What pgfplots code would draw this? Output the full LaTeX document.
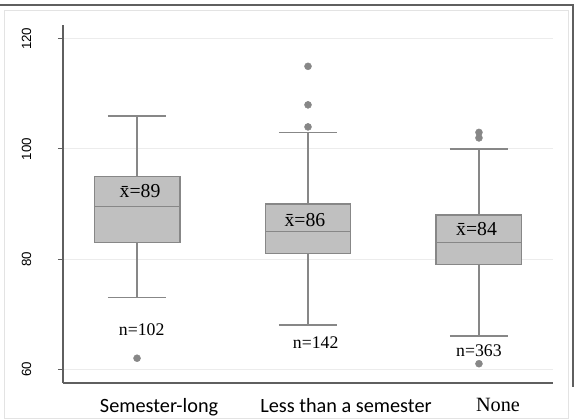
\documentclass[border=0pt]{standalone}
\usepackage{fontspec}
\setmainfont{Liberation Serif}
\newfontfamily\arialf{Liberation Sans}
\newfontfamily\calib{Carlito}
\usepackage{pgfplots}
\pgfplotsset{compat=1.18}

\definecolor{boxfill}{RGB}{192,192,192}
\definecolor{boxline}{RGB}{135,135,135}
\definecolor{axisline}{RGB}{95,95,95}
\definecolor{gridc}{RGB}{236,236,236}

\pgfplotsset{
  whisk/.style={draw=boxline, line width=1.1pt, no marks, unbounded coords=jump},
  boxbody/.style={draw=boxline, line width=1.1pt, fill=boxfill, no marks},
  medline/.style={draw=boxline, line width=1.1pt, no marks},
  outl/.style={only marks, mark=*, mark size=2.6pt, mark options={fill=boxline, draw=boxline}},
}

\begin{document}
\begin{tikzpicture}
% fixed page size and outer frame
\path[use as bounding box] (-47.25pt,-27.75pt) rectangle (386.25pt,287.25pt);
\draw[gray!22, line width=0.6pt] (-44.25pt,-26.25pt) rectangle (378.75pt,279.75pt);
\draw[axisline, line width=1.1pt] (-47.25pt,283.5pt) -- (382.5pt,283.5pt) -- (382.5pt,-3pt);

\begin{axis}[
  at={(0pt,0pt)}, anchor=south west,
  scale only axis, width=367.5pt, height=268.5pt,
  xmin=-0.433, xmax=2.433, ymin=57.5, ymax=122.5,
  axis x line*=bottom, axis y line*=left,
  axis line style={axisline, line width=1.1pt},
  xtick={0.129,1.222,2.111},
  xticklabels={{\calib Semester-long},{\calib Less than a semester},{None}},
  x tick label style={font=\fontsize{15.2}{17}\selectfont, anchor=north, yshift=-4pt},
  major x tick style={draw=none},
  ytick={60,80,100,120},
  /pgf/number format/assume math mode=true,
  y tick label style={font=\arialf\fontsize{10}{12}\selectfont, xshift=-16.5pt, rotate=90, anchor=south},
  tick align=outside,
  major tick length=3.75pt,
  y tick style={axisline, line width=0.8pt},
  ymajorgrids, grid style={gridc, line width=0.8pt},
]
% ---- Semester-long: whiskers 73/106, quartiles 83/95, median 89.5
\addplot[whisk] coordinates {(0,95) (0,106) (0,nan) (-0.17,106) (0.17,106) (0,nan)
  (0,83) (0,73) (0,nan) (-0.17,73) (0.17,73)};
\addplot[boxbody] coordinates {(-0.25,83) (0.25,83) (0.25,95) (-0.25,95)} --cycle;
\addplot[medline] coordinates {(-0.25,89.5) (0.25,89.5)};
\addplot[outl] coordinates {(0,62)};

% ---- Less than a semester: whiskers 68/103, quartiles 81/90, median 85
\addplot[whisk] coordinates {(1,90) (1,103) (1,nan) (0.83,103) (1.17,103) (1,nan)
  (1,81) (1,68) (1,nan) (0.83,68) (1.17,68)};
\addplot[boxbody] coordinates {(0.75,81) (1.25,81) (1.25,90) (0.75,90)} --cycle;
\addplot[medline] coordinates {(0.75,85) (1.25,85)};
\addplot[outl] coordinates {(1,104) (1,108) (1,115)};

% ---- None: whiskers 66/100, quartiles 79/88, median 83
\addplot[whisk] coordinates {(2,88) (2,100) (2,nan) (1.83,100) (2.17,100) (2,nan)
  (2,79) (2,66) (2,nan) (1.83,66) (2.17,66)};
\addplot[boxbody] coordinates {(1.75,79) (2.25,79) (2.25,88) (1.75,88)} --cycle;
\addplot[medline] coordinates {(1.75,83) (2.25,83)};
\addplot[outl] coordinates {(2,61) (2,102) (2,103)};

% mean and sample-size annotations
\begin{scope}[every node/.style={inner sep=0pt, anchor=base}]
\node[font=\fontsize{14.8}{16}\selectfont] at (axis cs:0.018,91.09) {\={x}=89};
\node[font=\fontsize{14.8}{16}\selectfont] at (axis cs:0.982,85.87) {\={x}=86};
\node[font=\fontsize{14.8}{16}\selectfont] at (axis cs:1.986,84.36) {\={x}=84};
\node[font=\fontsize{13.3}{15}\selectfont] at (axis cs:0.027,66.18) {n=102};
\node[font=\fontsize{13.3}{15}\selectfont] at (axis cs:1.045,63.76) {n=142};
\node[font=\fontsize{13.3}{15}\selectfont] at (axis cs:2.0,62.36) {n=363};
\end{scope}
\end{axis}
\end{tikzpicture}
\end{document}
